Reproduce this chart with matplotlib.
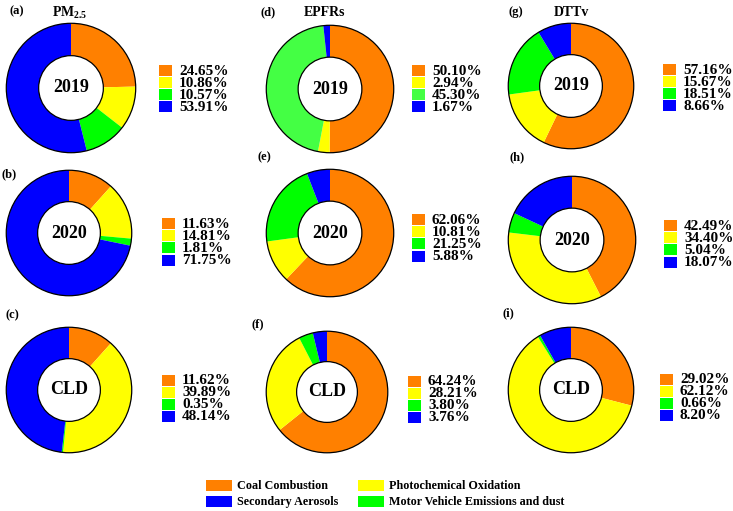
import numpy as np
import matplotlib
matplotlib.use("Agg")
import matplotlib.pyplot as plt
from matplotlib.patches import Rectangle, Circle, Patch

# %%
# Source contributions (%)
sources = ["Coal Combustion", "Photochemical Oxidation",
           "Motor Vehicle Emissions and dust", "Secondary Aerosols"]
colors = ["#FF8000", "#FFFF00", "#00FF00", "#0000FF"]

pm25_2019 = [24.65, 10.86, 10.57, 53.91]
pm25_2020 = [11.63, 14.81, 1.81, 71.75]
pm25_cld = [11.62, 39.89, 0.35, 48.14]
epfr_2019 = [50.10, 2.94, 45.30, 1.67]
epfr_2020 = [62.06, 10.81, 21.25, 5.88]
epfr_cld = [64.24, 28.21, 3.80, 3.76]
dttv_2019 = [57.16, 15.67, 18.51, 8.66]
dttv_2020 = [42.49, 34.40, 5.04, 18.07]
dttv_cld = [29.02, 62.12, 0.66, 8.20]

periods = ["2019", "2020", "CLD"]
species = ["PM$_{\\mathbf{2.5}}$", "EPFRs", "DTTv"]
panel_tags = ["(a)", "(b)", "(c)", "(d)", "(e)", "(f)", "(g)", "(h)", "(i)"]

data = [pm25_2019, pm25_2020, pm25_cld,
        epfr_2019, epfr_2020, epfr_cld,
        dttv_2019, dttv_2020, dttv_cld]

# %%
# layout in pixels: donut centre/radius, legend corner, tag position
W, H = 733, 511
layout = [
    (71, 88, 66, 159, 71, 17, 11),
    (69, 233, 64, 162, 224, 9, 174),
    (69, 390, 64, 162, 380, 12, 315),
    (330, 89, 65, 412, 71, 268, 12),
    (330, 233, 65, 412, 220, 264, 157),
    (327, 392, 62, 408, 381, 258, 324),
    (571, 86, 64, 663, 70, 516, 12),
    (572, 240, 65, 664, 226, 517, 157),
    (571, 390, 64, 660, 379, 508, 313),
]
title_pos = [(70, 13), (325, 13), (571, 13)]

plt.rcParams['font.family'] = ['Liberation Serif', 'DejaVu Serif']
plt.rcParams['font.weight'] = 'bold'
plt.rcParams['mathtext.fontset'] = 'custom'
plt.rcParams['mathtext.rm'] = 'Liberation Serif:bold'
plt.rcParams['mathtext.bf'] = 'Liberation Serif:bold'

fig = plt.figure(figsize=(W / 100, H / 100), dpi=100)


def fx(x):
    return x / W


def fy(y):
    return 1 - y / H


for k, vals in enumerate(data):
    cx, cy, r, lx, ly, tx, ty = layout[k]
    ax = fig.add_axes([fx(cx - r), fy(cy + r), 2 * r / W, 2 * r / H])
    cols = list(colors)
    if k == 3:
        cols[2] = "#44FF44"
    ax.pie(vals, colors=cols, startangle=90, counterclock=False, radius=1,
           wedgeprops=dict(width=0.5, linewidth=0))
    ax.add_patch(Circle((0, 0), 1, fill=False, ec="black", lw=0.9))
    ax.add_patch(Circle((0, 0), 0.5, fill=False, ec="black", lw=0.9))
    ax.text(0, 0, periods[k % 3], ha="center", va="center",
            fontsize=13, fontweight="bold")
    ax.set_xlim(-1.02, 1.02)
    ax.set_ylim(-1.02, 1.02)
    ax.set_aspect("equal")
    ax.axis("off")

    # percentage legend next to each donut
    for i, v in enumerate(vals):
        yy = ly + 12 * i
        fig.add_artist(Rectangle((fx(lx), fy(yy + 5.5)), 13 / W, 11 / H,
                                 transform=fig.transFigure,
                                 facecolor=cols[i], edgecolor="none"))
        fig.text(fx(lx + 20), fy(yy + 0.5), "%.2f%%" % v, ha="left",
                 va="center", fontsize=11, fontweight="bold")

    fig.text(fx(tx), fy(ty), panel_tags[k], ha="center", va="center",
             fontsize=9, fontweight="bold")

for j, name in enumerate(species):
    fig.text(fx(title_pos[j][0]), fy(title_pos[j][1]), name, ha="center",
             va="center", fontsize=10, fontweight="bold")

# %%
# shared source legend at the bottom
order = [0, 3, 1, 2]
handles = [Patch(facecolor=colors[i], edgecolor="none") for i in order]
labels = [sources[i] for i in order]
fig.legend(handles, labels, ncol=2, frameon=False, loc="center left",
           bbox_to_anchor=(fx(198), fy(494)), fontsize=8.7,
           handlelength=2.1, handleheight=1.1, handletextpad=0.4,
           columnspacing=1.7, labelspacing=0.25, borderpad=0.2)

fig.savefig("out.png", dpi=100)
